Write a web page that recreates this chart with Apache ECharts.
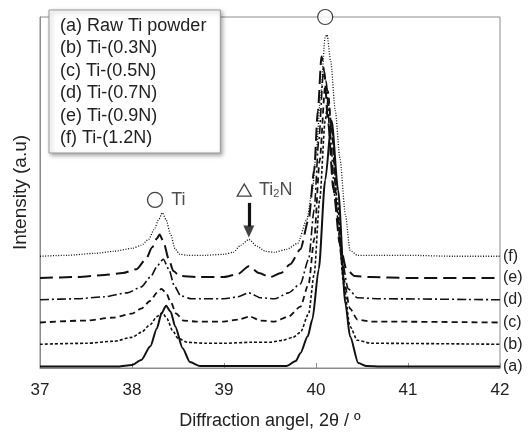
<!DOCTYPE html>
<html><head><meta charset="utf-8">
<script src="https://cdn.jsdelivr.net/npm/echarts@6/dist/echarts.min.js"></script>
<style>html,body{margin:0;padding:0;background:#fff}#c{width:530px;height:435px}</style>
</head><body><div id="c"></div>
<script>
// Names and right-hand tags
const seriesNames = ['(a) Raw Ti powder','(b) Ti-(0.3N)','(c) Ti-(0.5N)','(d) Ti-(0.7N)','(e) Ti-(0.9N)','(f) Ti-(1.2N)'];
const endTags = ['(a)','(b)','(c)','(d)','(e)','(f)'];
const xTicks = [37,38,39,40,41,42];

// Diffraction angle (2θ) vs. stacked intensity (a.u.)
const curveA = [[37,1.5],[37.85,1.5],[38.0,3],[38.1,8],[38.2,22],[38.27,40],[38.32,55],[38.37,63],[38.42,57],[38.47,42],[38.55,20],[38.63,6],[38.74,2],[39.68,2],[39.78,7],[39.83,15],[39.91,32],[39.96,49],[40.03,100],[40.1,190],[40.17,250],[40.24,180],[40.32,65],[40.37,32],[40.46,5],[40.55,2],[40.7,1.5],[42,1.5]];
const curveB = [[37,24],[37.5,25],[37.8,27],[38.0,31],[38.1,36],[38.2,44],[38.27,52],[38.33,56],[38.38,50],[38.44,38],[38.5,30],[38.6,26],[38.8,25],[39.0,25],[39.3,26],[39.5,26],[39.64,28],[39.75,31],[39.83,36],[39.92,55],[39.98,95],[40.04,170],[40.1,250],[40.13,270],[40.17,245],[40.23,170],[40.3,85],[40.37,42],[40.45,28],[40.6,25],[42,24]];
const curveC = [[37,46],[37.5,48],[37.8,51],[38.0,55],[38.1,60],[38.2,68],[38.27,76],[38.32,80],[38.37,76],[38.42,67],[38.48,55],[38.56,48],[38.7,47],[39.0,47],[39.15,49],[39.28,52],[39.4,48],[39.55,47],[39.7,52],[39.83,62],[39.92,85],[39.98,130],[40.04,210],[40.1,285],[40.13,280],[40.17,240],[40.23,160],[40.3,90],[40.37,60],[40.45,49],[40.6,47],[42,46]];
const curveD = [[37,69],[37.4,70],[37.7,72],[37.95,76],[38.1,82],[38.2,92],[38.28,104],[38.34,110],[38.4,100],[38.46,83],[38.53,73],[38.65,70],[39.0,70],[39.15,72],[39.27,76],[39.4,71],[39.55,70],[39.7,76],[39.83,85],[39.92,110],[39.98,160],[40.03,230],[40.08,298],[40.11,290],[40.15,240],[40.21,170],[40.28,110],[40.35,80],[40.45,71],[40.7,70],[42,69]];
const curveE = [[37,91],[37.4,92],[37.7,94],[37.9,96],[38.05,100],[38.15,110],[38.22,122],[38.27,131],[38.3,135],[38.34,128],[38.4,110],[38.45,98],[38.52,93],[38.7,92],[39.0,92],[39.15,95],[39.27,103],[39.38,96],[39.5,92],[39.62,96],[39.72,105],[39.83,120],[39.92,150],[39.98,200],[40.02,260],[40.06,315],[40.09,300],[40.13,250],[40.19,180],[40.26,125],[40.33,100],[40.42,93],[40.6,92],[41,91],[42,91]];
const curveF = [[37,113],[37.3,114],[37.6,116],[37.8,118],[38.0,121],[38.1,124],[38.18,130],[38.24,140],[38.29,150],[38.33,157],[38.37,150],[38.42,135],[38.47,120],[38.52,115],[38.6,114],[38.8,114],[39.0,115],[39.1,117],[39.18,124],[39.27,130],[39.36,123],[39.45,118],[39.55,117],[39.68,120],[39.8,126],[39.9,150],[39.96,179],[40.0,215],[40.05,275],[40.1,335],[40.12,337],[40.16,310],[40.21,260],[40.26,212],[40.32,155],[40.37,119],[40.45,114],[40.7,114],[41,114],[41.5,113],[42,113]];

// Annotation anchors (data coordinates)
const mainPeakMark = [[40.1,355]];
const tiMark = [[38.25,170]];
const ti2nMark = [[39.22,180]];
const ti2nArrowShaft = [[39.27,167],[39.27,143]];
const ti2nArrowHead = [[39.27,138]];

const curves = [curveA,curveB,curveC,curveD,curveE,curveF];
const styles = [
  {type:'solid', width:2},
  {type:[3,2], width:1.6},
  {type:[6,4], width:1.8},
  {type:[9,3,2,3], width:1.6},
  {type:[13,6], width:2},
  {type:[1,1.6], width:1.3}
];
const FONT = 'Liberation Sans, Arial, sans-serif';

const series = curves.map((d,i)=>({
  name: seriesNames[i], type:'line', data:d, showSymbol:false, smooth:0.25, smoothMonotone:'x',
  lineStyle:{color:'#111', type:styles[i].type, width:styles[i].width},
  itemStyle:{color:'#111'},
  endLabel:{show:true, formatter:endTags[i], distance:3, fontSize:16, color:'#222', fontFamily:FONT},
  z: 3, silent:true, animation:false
}));

series.push({
  name:'peakO', type:'scatter', data:mainPeakMark, symbol:'circle', symbolSize:15, clip:false,
  itemStyle:{color:'#fff', borderColor:'#111', borderWidth:1.2}, z:10, silent:true
});
series.push({
  name:'tiO', type:'scatter', data:tiMark, symbol:'circle', symbolSize:15,
  itemStyle:{color:'#fff', borderColor:'#111', borderWidth:1.3}, z:10, silent:true,
  label:{show:true, position:'right', distance:8, formatter:'Ti', fontSize:18, color:'#222', fontFamily:FONT}
});
series.push({
  name:'ti2nD', type:'scatter', data:ti2nMark, symbol:'triangle', symbolSize:[14,12],
  itemStyle:{color:'#fff', borderColor:'#111', borderWidth:1.3}, z:10, silent:true,
  label:{show:true, position:'right', distance:7, formatter:'Ti{s|2}N', fontSize:18, color:'#222', fontFamily:FONT,
    rich:{s:{fontSize:11, verticalAlign:'bottom', padding:[8,0,0,0], color:'#222', fontFamily:FONT}}},
  markLine:{silent:true, symbol:['none','none'], label:{show:false},
    lineStyle:{color:'#111', type:'solid', width:3.2},
    data:[[{coord:ti2nArrowShaft[0]},{coord:ti2nArrowShaft[1]}]]}
});
series.push({
  name:'arrowHead', type:'scatter', data:ti2nArrowHead, symbol:'triangle', symbolRotate:180, symbolSize:[11,12],
  itemStyle:{color:'#111'}, z:10, silent:true
});

const chart = echarts.init(document.getElementById('c'), null, {renderer:'canvas'});
chart.setOption({
  animation:false,
  backgroundColor:'#fff',
  textStyle:{fontFamily:FONT},
  grid:{left:40, right:30, top:17, bottom:63, show:true, borderColor:'#8c8c8c', borderWidth:1},
  legend:{
    data:seriesNames, orient:'vertical', left:49, top:10,
    icon:'none', itemWidth:0, itemHeight:16, itemGap:4.4,
    padding:[7,14,6,6], selectedMode:false,
    backgroundColor:'#fff', borderColor:'#999', borderWidth:1,
    shadowBlur:4, shadowColor:'rgba(0,0,0,0.35)', shadowOffsetX:2, shadowOffsetY:2,
    textStyle:{fontSize:18, color:'#222', fontFamily:FONT}
  },
  xAxis:{
    type:'value', min:37, max:42, interval:1,
    name:'Diffraction angel, 2θ / º', nameLocation:'middle', nameGap:44,
    nameTextStyle:{fontSize:18, color:'#222', fontFamily:FONT},
    axisLine:{show:true, lineStyle:{color:'#8c8c8c'}},
    axisTick:{show:true, inside:true, length:5, lineStyle:{color:'#8c8c8c'}},
    axisLabel:{fontSize:17, color:'#222', margin:14, fontFamily:FONT,
      formatter:(v)=> xTicks.includes(v) ? String(v) : ''},
    splitLine:{show:false}
  },
  yAxis:{
    type:'value', min:0, max:355,
    name:'Intensity (a.u)', nameLocation:'middle', nameGap:10, nameRotate:90,
    nameTextStyle:{fontSize:19, color:'#222', fontFamily:FONT},
    axisLine:{show:true, lineStyle:{color:'#8c8c8c'}},
    axisTick:{show:false}, axisLabel:{show:false}, splitLine:{show:false}
  },
  series:series
});
</script></body></html>
